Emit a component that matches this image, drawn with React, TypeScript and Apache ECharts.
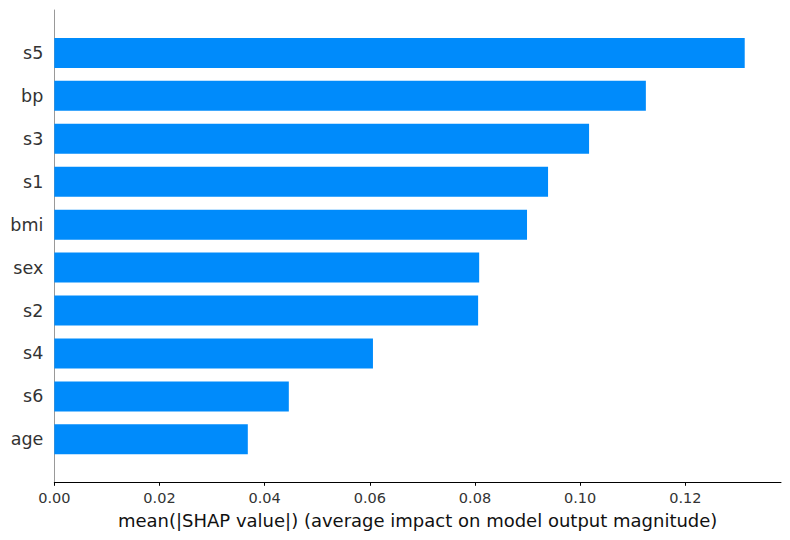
import React, { useEffect, useRef } from "react";
import * as echarts from "echarts";

const features = ["age", "s6", "s4", "s2", "sex", "bmi", "s1", "s3", "bp", "s5"];
const meanAbsShap = [0.0368, 0.0446, 0.0606, 0.0806, 0.0808, 0.0899, 0.0939, 0.1017, 0.1125, 0.1313];
const xTicks = [0, 0.02, 0.04, 0.06, 0.08, 0.1, 0.12];
const xMax = 0.1382;
const xTitle = "mean(|SHAP value|) (average impact on model output magnitude)";

export default function App() {
  const ref = useRef<HTMLDivElement>(null);
  useEffect(() => {
    if (!ref.current) return;
    const chart = echarts.init(ref.current, undefined, { renderer: "svg" });
    const cats = ["", ...features, ""];
    const data: (number | null)[] = [null, ...meanAbsShap, null];
    chart.setOption({
      animation: false,
      grid: { left: 54.3, right: 9, top: 10, bottom: 57.7, containLabel: false },
      xAxis: {
        type: "value",
        min: 0,
        max: xMax,
        interval: 0.02,
        splitLine: { show: false },
        axisLine: { show: true, lineStyle: { color: "#000", width: 1 } },
        axisTick: { show: true, length: 3.5, lineStyle: { color: "#000" } },
        axisLabel: {
          color: "#333",
          fontFamily: "DejaVu Sans",
          fontSize: 14.5,
          margin: 8,
          showMaxLabel: false,
          formatter: (v: number) => (xTicks.some((t) => Math.abs(t - v) < 1e-9) ? v.toFixed(2) : ""),
        },
        name: xTitle,
        nameLocation: "middle",
        nameGap: 29,
        nameTextStyle: { color: "#111", fontFamily: "DejaVu Sans", fontSize: 18 },
      },
      yAxis: {
        type: "category",
        data: cats,
        boundaryGap: false,
        axisLine: { show: true, lineStyle: { color: "#999", width: 1 } },
        axisTick: { show: false },
        splitLine: { show: false },
        axisLabel: {
          color: "#333",
          fontFamily: "DejaVu Sans",
          fontSize: 17.5,
          margin: 11,
          interval: 0,
        },
      },
      series: [
        {
          type: "bar",
          data,
          barWidth: 30,
          itemStyle: { color: "#008bfb" },
        },
      ],
    });
    return () => chart.dispose();
  }, []);
  return <div ref={ref} style={{ width: 790, height: 540, position: "absolute", left: 0, top: 0 }} />;
}
